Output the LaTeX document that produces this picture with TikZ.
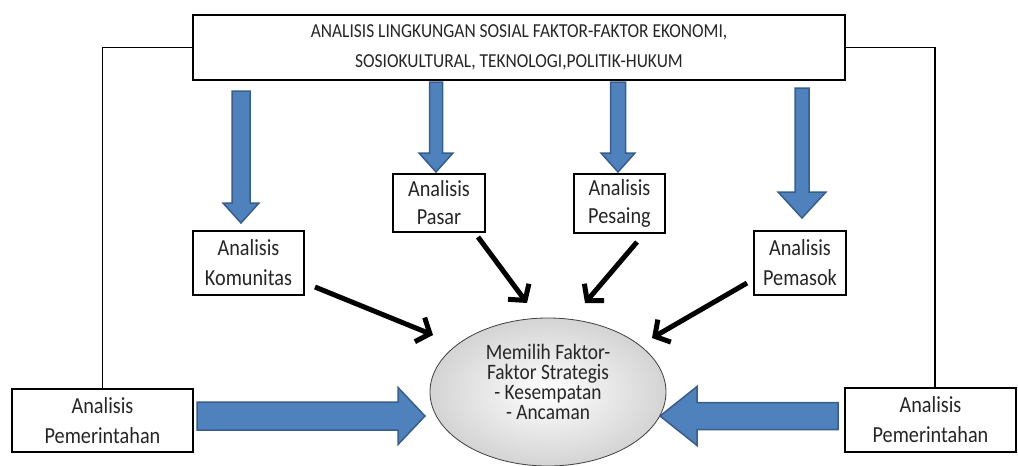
\documentclass[tikz,border=0pt]{standalone}
\usepackage{fontspec}
\setmainfont[FakeStretch=0.88]{Carlito}
\usetikzlibrary{arrows.meta,shapes.geometric}
\definecolor{arrowblue}{HTML}{4F81BD}
\definecolor{arrowedge}{HTML}{385D8A}
\newcommand\fatdown[6]{% x, ytop, yhead, ytip, shaftw, headw
  \filldraw[blu] ({#1-#5/2},#2) -- ({#1+#5/2},#2) -- ({#1+#5/2},#3) -- ({#1+#6/2},#3) -- (#1,#4) -- ({#1-#6/2},#3) -- ({#1-#5/2},#3) -- cycle;}
\newcommand\fatside[6]{% xstart, xhead, xtip, yc, shaftw, headw
  \filldraw[blu] (#1,{#4-#5/2}) -- (#2,{#4-#5/2}) -- (#2,{#4-#6/2}) -- (#3,#4) -- (#2,{#4+#6/2}) -- (#2,{#4+#5/2}) -- (#1,{#4+#5/2}) -- cycle;}
\begin{document}
\begin{tikzpicture}[x=1pt,y=-1pt,
  box/.style={draw=black,line width=2pt,fill=white,inner sep=0pt,align=center,
    font=\fontsize{23}{30}\selectfont,text=black!85},
  conn/.style={line width=1.5pt},
  blk/.style={line width=5pt,-{Straight Barb[length=11pt,width=26pt,line width=5pt]}},
  blu/.style={fill=arrowblue,draw=arrowedge,line width=1.5pt,line join=miter},
]
\useasboundingbox (0,0) rectangle (1018,466);

\node[box,minimum width=181pt,minimum height=63pt] (pemL) at (102.5,420.5) {Analisis\\Pemerintahan};
\node[box,minimum width=171pt,minimum height=64pt] (pemR) at (930.5,420) {Analisis\\Pemerintahan};
\node[box,minimum width=652pt,minimum height=65pt,font=\fontsize{19.8}{30}\selectfont] (top) at (519,47.5)
  {ANALISIS LINGKUNGAN SOSIAL FAKTOR-FAKTOR EKONOMI,\\SOSIOKULTURAL, TEKNOLOGI,POLITIK-HUKUM};
\draw[conn] (top.west) -| (pemL.north);
\draw[conn] (top.east) -| ([xshift=4.5pt]pemR.north);

\node[box,minimum width=111pt,minimum height=64pt] (kom) at (248.5,263) {Analisis\\Komunitas};
\node[box,minimum width=92pt,minimum height=58pt,font=\fontsize{23}{28}\selectfont] (pas) at (439,203) {Analisis\\Pasar};
\node[box,minimum width=91pt,minimum height=59pt,font=\fontsize{23}{28}\selectfont] (pes) at (619.5,203.5) {Analisis\\Pesaing};
\node[box,minimum width=92pt,minimum height=64pt] (pem) at (800,263) {Analisis\\Pemasok};

% blue arrows
\fatdown{241}{91}{203}{223}{18}{36}
\fatdown{436}{82}{153}{172}{13}{34}
\fatdown{618}{82}{153}{172}{15}{34}
\fatdown{802}{88}{192}{218}{14}{48}
\fatside{197}{398}{425}{416}{28}{57}
\fatside{838}{697}{660}{416}{27}{59}

% central ellipse
\node[ellipse,minimum width=236pt,minimum height=148pt,draw=black!75,line width=0.8pt,
  shading=radial,inner color=white,outer color=black!17] (goal) at (548,392) {};
\node[font=\fontsize{22}{20}\selectfont,align=center,text=black!85,inner sep=0pt] (goaltext) at (548,382)
  {Memilih Faktor-\\Faktor Strategis\\- Kesempatan\\- Ancaman};

% black arrows
\coordinate (k1) at (315,287); \coordinate (k2) at (433,335);
\coordinate (p1) at (478,237); \coordinate (p2) at (527,303);
\coordinate (s1) at (637,242); \coordinate (s2) at (585,303);
\coordinate (m1) at (747,283); \coordinate (m2) at (652,338);
\draw[blk] (k1) -- (k2);
\draw[blk] (p1) -- (p2);
\draw[blk] (s1) -- (s2);
\draw[blk] (m1) -- (m2);
\end{tikzpicture}
\end{document}
